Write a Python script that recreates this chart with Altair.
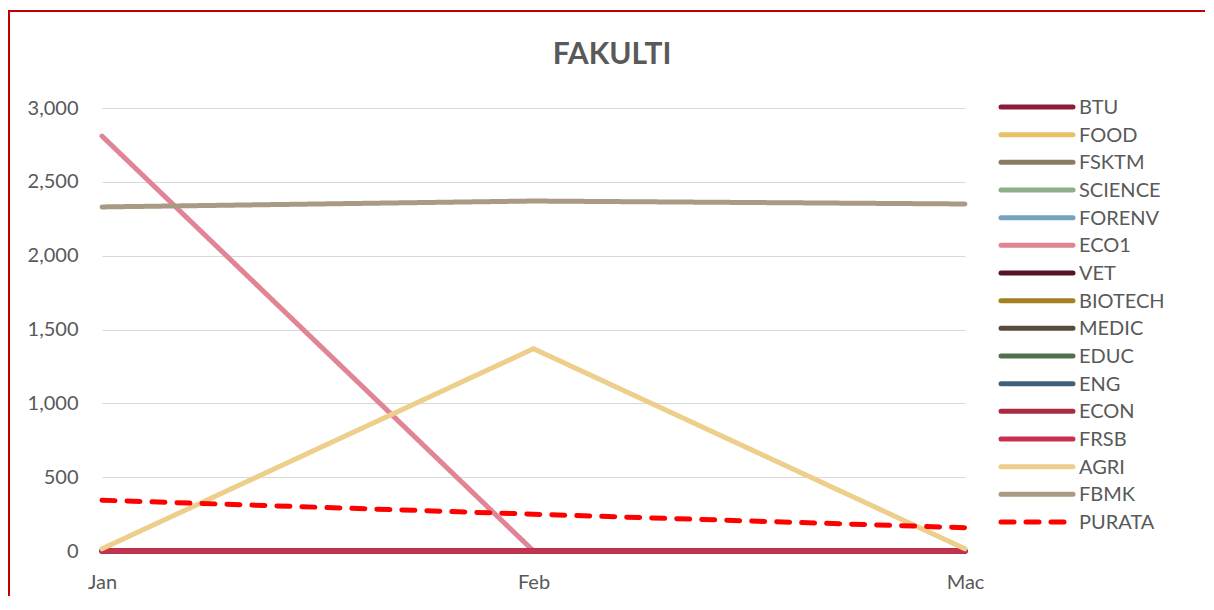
import altair as alt
import pandas as pd

months = ["Jan", "Feb", "Mac"]
names = ["BTU", "FOOD", "FSKTM", "SCIENCE", "FORENV", "ECO1", "VET", "BIOTECH",
         "MEDIC", "EDUC", "ENG", "ECON", "FRSB", "AGRI", "FBMK", "PURATA"]
colors = ["#8E1C38", "#E8C068", "#8B7B63", "#8FAE8A", "#75A2BF", "#E08496", "#571424", "#A57F22",
          "#574C3B", "#51714E", "#3E6179", "#AA2B41", "#C93050", "#EDCE8B", "#A99A83", "#FF0000"]
values = {
    "BTU": [0, 0, 0],
    "FOOD": [0, 0, 0],
    "FSKTM": [0, 0, 0],
    "SCIENCE": [0, 0, 0],
    "FORENV": [0, 0, 0],
    "ECO1": [2810, 0, 0],
    "VET": [0, 0, 0],
    "BIOTECH": [0, 0, 0],
    "MEDIC": [0, 0, 0],
    "EDUC": [0, 0, 0],
    "ENG": [0, 0, 0],
    "ECON": [0, 0, 0],
    "FRSB": [0, 0, 0],
    "AGRI": [15, 1370, 15],
    "FBMK": [2330, 2370, 2350],
    "PURATA": [344, 249, 158],
}
dashes = [[1, 0]] * 15 + [[13, 12]]
title_text = "FAKULTI"

rows = []
for n in names:
    for m, v in zip(months, values[n]):
        rows.append({"name": n, "month": m, "value": v})
df = pd.DataFrame(rows)
legend_df = pd.DataFrame({"name": names})

FONT = "Lato"
GREY = "#595959"

color_enc = alt.Color("name:N", scale=alt.Scale(domain=names, range=colors), legend=None)
dash_enc = alt.StrokeDash("name:N", scale=alt.Scale(domain=names, range=dashes), legend=None)

lines = alt.Chart(df).mark_line(strokeWidth=5, strokeCap="round", strokeJoin="round").encode(
    x=alt.X("month:N", sort=months, scale=alt.Scale(domain=months, padding=0),
            axis=alt.Axis(title=None, labelAngle=0, ticks=False, labelPadding=21,
                          domainColor="#D9D9D9", labelFontSize=20, labelFont=FONT,
                          labelColor=GREY, grid=False)),
    y=alt.Y("value:Q", scale=alt.Scale(domain=[0, 3000], nice=False),
            axis=alt.Axis(title=None, values=[0, 500, 1000, 1500, 2000, 2500, 3000], format=",.0f",
                          domain=False, ticks=False, labelPadding=24, labelFontSize=20,
                          labelFont=FONT, labelColor=GREY, gridColor="#D9D9D9", gridWidth=1)),
    color=color_enc,
    strokeDash=dash_enc,
    order=alt.Order("month_idx:Q"),
).transform_calculate(month_idx="indexof(['Jan','Feb','Mac'], datum.month)")

leg_y = alt.Y("name:N", sort=names,
              scale=alt.Scale(type="point", domain=names, range=[-1, 414], padding=0), axis=None)

leg_rules = alt.Chart(legend_df).mark_rule(strokeWidth=5, strokeCap="round").encode(
    x=alt.value(899), x2=alt.value(971), y=leg_y, color=color_enc, strokeDash=dash_enc)

leg_text = alt.Chart(legend_df).mark_text(align="left", baseline="middle", fontSize=20,
                                          font=FONT, color=GREY, dy=1).encode(
    x=alt.value(977), y=leg_y, text="name:N")

title = alt.Chart(alt.Data(values=[{"t": title_text}])).mark_text(
    align="center", baseline="middle", fontSize=30, font=FONT, fontWeight="bold",
    color=GREY, clip=False).encode(x=alt.value(510), y=alt.value(-53), text="t:N")

border = alt.Chart(alt.Data(values=[{}])).mark_rect(fill=None, stroke="#C00000", strokeWidth=2,
                                                    clip=False).encode(
    x=alt.value(-93), y=alt.value(-97), x2=alt.value(1300), y2=alt.value(700))

chart = alt.layer(lines, leg_rules, leg_text, title, border).resolve_scale(y="independent").properties(
    width=863, height=443,
    autosize=alt.AutoSizeParams(type="none"),
    padding={"left": 94, "top": 100, "right": 240, "bottom": 45},
).configure_view(stroke=None)

chart.save("out.html", embed_options={"renderer": "svg", "actions": False})
